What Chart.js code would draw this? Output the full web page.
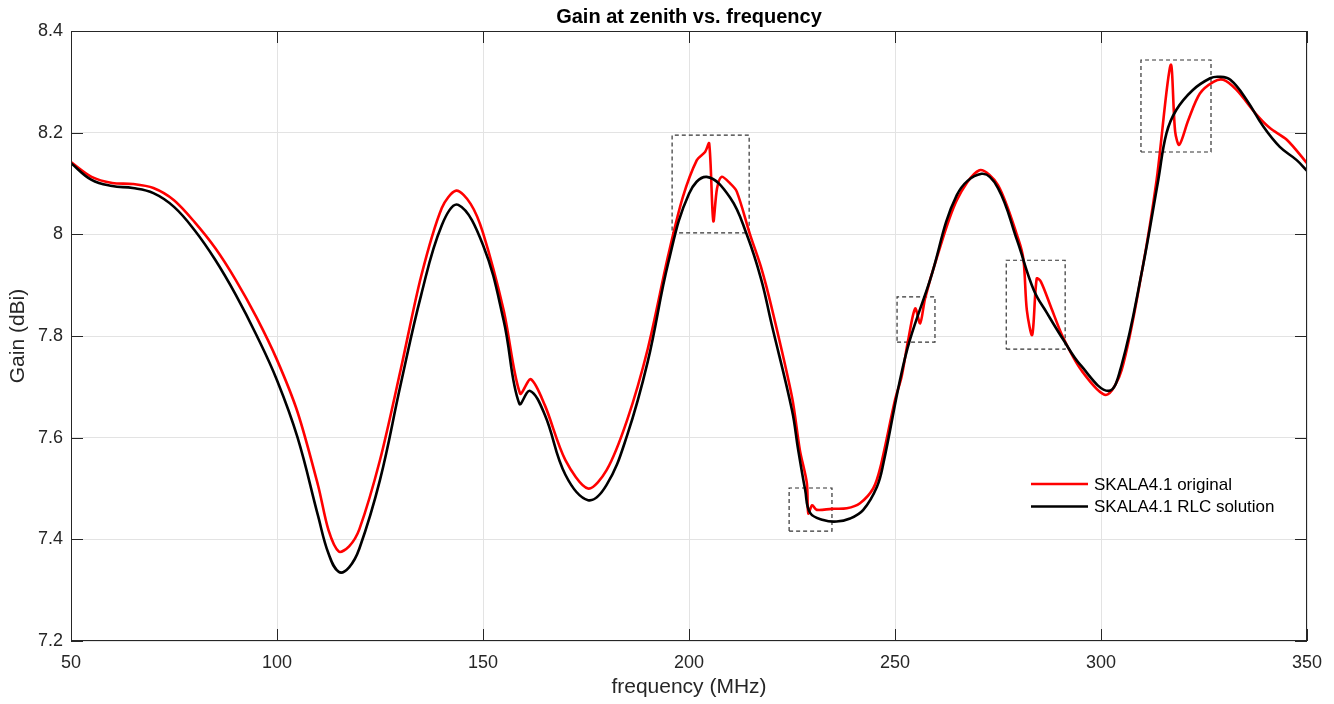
<!DOCTYPE html>
<html lang="en">
<head>
<meta charset="UTF-8">
<title>Gain at zenith vs. frequency</title>
<style>
  html, body { margin: 0; padding: 0; background: #fff; }
  .wrap { width: 1334px; height: 704px; }
</style>
<script src="https://cdn.jsdelivr.net/npm/chart.js"></script>
</head>
<body>
<div class="wrap"><canvas id="gainChart" width="1334" height="704"></canvas></div>
<script>
  // SKALA4.1 original (red)
  const freqOrig = [50, 55, 60, 65, 70, 75, 80, 85, 90, 95, 100, 105, 110, 112.5, 115, 117.5, 120, 125, 130, 135, 140, 143.5,
    147, 150, 155, 159, 161.6, 165, 170, 175.5, 180, 185, 190, 195, 198.5, 201.9, 203.9, 204.9, 205.9, 206.8, 207.9, 210,
    211.6, 214.8, 217.5, 220, 225, 226.9, 228.6, 228.96, 229.9, 231, 234.6, 238.3, 241.5, 244.7, 246.4, 250, 251.6, 253.2,
    254.9, 256.1, 257.3, 260, 265, 270.5, 275, 280, 281.2, 282, 283.3, 284.4, 285.4, 287.8, 290.7, 295.2, 301.2, 305, 310,
    313.5, 316.9, 318, 319, 321.2, 324, 327.3, 329.7, 332.9, 337.8, 341, 345.1, 350];
  const gainOrig = [8.142, 8.113, 8.101, 8.099, 8.091, 8.067, 8.024, 7.973, 7.910, 7.837, 7.753, 7.650, 7.505, 7.418, 7.376,
    7.386, 7.420, 7.556, 7.733, 7.918, 8.052, 8.086, 8.060, 8.003, 7.851, 7.687, 7.715, 7.664, 7.556, 7.500, 7.536, 7.635,
    7.775, 7.960, 8.073, 8.146, 8.162, 8.179, 8.026, 8.090, 8.113, 8.100, 8.084, 8.000, 7.935, 7.858, 7.680, 7.576, 7.511,
    7.451, 7.467, 7.458, 7.460, 7.461, 7.471, 7.500, 7.540, 7.674, 7.720, 7.792, 7.854, 7.825, 7.874, 7.950, 8.067, 8.126,
    8.097, 7.989, 7.949, 7.851, 7.802, 7.913, 7.907, 7.858, 7.799, 7.733, 7.684, 7.733, 7.930, 8.107, 8.333, 8.202, 8.176,
    8.225, 8.277, 8.300, 8.304, 8.284, 8.235, 8.209, 8.186, 8.140];

  // SKALA4.1 RLC solution (black)
  const freqRlc = [50, 55, 60, 65, 70, 75, 80, 85, 90, 95, 100, 105, 110, 112.5, 115, 117.5, 120, 125, 130, 135, 140, 144,
    150, 155, 158.8, 161.4, 165, 170, 175.5, 180, 185, 190, 195, 200, 204.3, 210, 214, 217.5, 220, 225, 226.5, 228.2, 229.4,
    232.6, 235.8, 239.1, 242.3, 245.6, 247.2, 251.2, 253.6, 258.5, 265, 271, 275, 279.6, 283.7, 286.9, 290.9, 295, 301.8,
    305, 310, 313.9, 315.9, 318.3, 322.3, 326.5, 328.6, 331.4, 335.4, 339.4, 343.4, 347.5, 350];
  const gainRlc = [8.140, 8.107, 8.095, 8.091, 8.081, 8.054, 8.008, 7.950, 7.881, 7.802, 7.713, 7.600, 7.445, 7.372, 7.336,
    7.345, 7.382, 7.517, 7.704, 7.881, 8.018, 8.058, 7.979, 7.831, 7.667, 7.692, 7.645, 7.527, 7.477, 7.507, 7.605, 7.750,
    7.945, 8.080, 8.113, 8.072, 8.000, 7.912, 7.825, 7.654, 7.576, 7.497, 7.452, 7.438, 7.435, 7.441, 7.458, 7.503, 7.550,
    7.713, 7.792, 7.910, 8.077, 8.119, 8.091, 7.989, 7.890, 7.845, 7.792, 7.743, 7.692, 7.743, 7.930, 8.107, 8.199, 8.245,
    8.284, 8.307, 8.310, 8.304, 8.264, 8.212, 8.172, 8.146, 8.125];

  // dashed boxes marking the resonances
  const boxFreq = [[195.9, 214.6], [224.3, 234.7], [250.5, 259.7], [277.0, 291.3], [309.7, 326.7]];
  const boxGain = [[8.003, 8.195], [7.416, 7.501], [7.788, 7.877], [7.774, 7.949], [8.162, 8.343]];

  const xTicks = [50, 100, 150, 200, 250, 300, 350];
  const yTicks = [7.2, 7.4, 7.6, 7.8, 8, 8.2, 8.4];
  const seriesNames = ['SKALA4.1 original', 'SKALA4.1 RLC solution'];
  const seriesColors = ['#ff0000', '#000000'];

  const FONT = '"Liberation Sans", Arial, Helvetica, sans-serif';
  const AXIS_COLOR = '#262626';

  const toPoints = (xs, ys) => xs.map((x, i) => ({ x: x, y: ys[i] }));

  const boxSets = boxFreq.map((f, i) => {
    const g = boxGain[i];
    return {
      label: 'box' + i,
      data: [{ x: f[0], y: g[0] }, { x: f[1], y: g[0] }, { x: f[1], y: g[1] }, { x: f[0], y: g[1] }, { x: f[0], y: g[0] }],
      borderColor: '#333333',
      borderWidth: 1.2,
      borderDash: [4, 3],
      pointRadius: 0,
      tension: 0,
      fill: false,
      order: 2
    };
  });

  const framePlugin = {
    id: 'framePlugin',
    afterDatasetsDraw(chart) {
      const { ctx, chartArea: a, scales } = chart;
      ctx.save();
      ctx.strokeStyle = AXIS_COLOR;
      ctx.lineWidth = 1;
      ctx.strokeRect(a.left + 0.5, a.top + 0.5, a.right - a.left - 1, a.bottom - a.top - 1);
      const tl = 12;
      ctx.beginPath();
      xTicks.forEach(v => {
        const px = Math.round(scales.x.getPixelForValue(v)) + 0.5;
        ctx.moveTo(px, a.bottom); ctx.lineTo(px, a.bottom - tl);
        ctx.moveTo(px, a.top); ctx.lineTo(px, a.top + tl);
      });
      yTicks.forEach(v => {
        const py = Math.round(scales.y.getPixelForValue(v)) + 0.5;
        ctx.moveTo(a.left, py); ctx.lineTo(a.left + tl, py);
        ctx.moveTo(a.right, py); ctx.lineTo(a.right - tl, py);
      });
      ctx.stroke();
      ctx.restore();
    },
    afterDraw(chart) {
      const { ctx, chartArea: a } = chart;
      ctx.save();
      // title
      ctx.fillStyle = '#000';
      ctx.font = 'bold 20px ' + FONT;
      ctx.textAlign = 'center';
      ctx.textBaseline = 'middle';
      ctx.fillText('Gain at zenith vs. frequency', (a.left + a.right) / 2, 17);
      // legend
      ctx.font = '17px ' + FONT;
      ctx.textAlign = 'left';
      seriesNames.forEach((name, i) => {
        const y = 484 + i * 22.5;
        ctx.strokeStyle = seriesColors[i];
        ctx.lineWidth = 2.5;
        ctx.beginPath();
        ctx.moveTo(1031, y); ctx.lineTo(1088, y);
        ctx.stroke();
        ctx.fillStyle = '#000';
        ctx.fillText(name, 1094, y + 1);
      });
      ctx.restore();
    }
  };

  new Chart(document.getElementById('gainChart'), {
    type: 'line',
    data: {
      datasets: [
        {
          label: seriesNames[1],
          data: toPoints(freqRlc, gainRlc),
          borderColor: seriesColors[1],
          borderWidth: 2.6,
          pointRadius: 0,
          tension: 0.4,
          fill: false,
          order: 0
        },
        {
          label: seriesNames[0],
          data: toPoints(freqOrig, gainOrig),
          borderColor: seriesColors[0],
          borderWidth: 2.6,
          pointRadius: 0,
          tension: 0.3,
          fill: false,
          order: 1
        },
        ...boxSets
      ]
    },
    options: {
      responsive: false,
      animation: false,
      devicePixelRatio: 1,
      layout: { padding: { top: 31, right: 27, left: 0, bottom: 0 } },
      plugins: {
        legend: { display: false },
        title: { display: false },
        tooltip: { enabled: false }
      },
      scales: {
        x: {
          type: 'linear',
          min: 50,
          max: 350,
          afterFit: s => { s.height = 63; },
          afterBuildTicks: s => { s.ticks = xTicks.map(v => ({ value: v })); },
          grid: { color: '#e3e3e3', drawTicks: false, lineWidth: 1 },
          border: { display: false },
          ticks: { color: AXIS_COLOR, font: { family: FONT, size: 18 }, padding: 11, maxRotation: 0 },
          title: { display: true, text: 'frequency (MHz)', color: AXIS_COLOR, font: { family: FONT, size: 21 }, padding: { top: 2 } }
        },
        y: {
          min: 7.2,
          max: 8.4,
          afterFit: s => { s.width = 71; },
          afterBuildTicks: s => { s.ticks = yTicks.map(v => ({ value: v })); },
          grid: { color: '#e3e3e3', drawTicks: false, lineWidth: 1 },
          border: { display: false },
          ticks: {
            color: AXIS_COLOR,
            font: { family: FONT, size: 18 },
            padding: 8,
            callback: v => String(+v.toFixed(1))
          },
          title: { display: true, text: 'Gain (dBi)', color: AXIS_COLOR, font: { family: FONT, size: 21 }, padding: { top: 6 } }
        }
      }
    },
    plugins: [framePlugin]
  });
</script>
</body>
</html>
